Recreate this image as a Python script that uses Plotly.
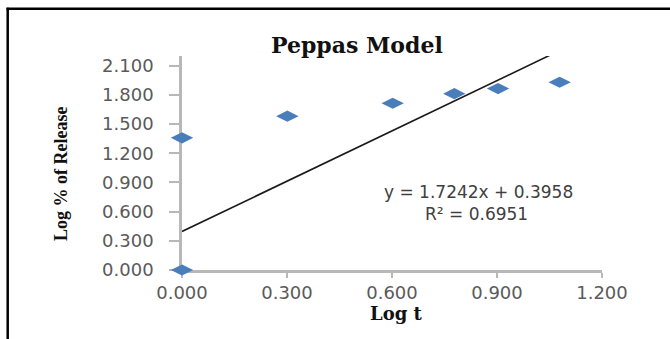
import plotly.graph_objects as go

# ---- data ----
log_t = [0.000, 0.000, 0.301, 0.602, 0.778, 0.903, 1.079]
log_release = [0.000, 1.359, 1.581, 1.714, 1.813, 1.865, 1.930]
trend_slope = 1.7242
trend_intercept = 0.3958
trend_x = [0.0, 1.2]
x_ticks = [0.0, 0.3, 0.6, 0.9, 1.2]
y_ticks = [0.0, 0.3, 0.6, 0.9, 1.2, 1.5, 1.8, 2.1]
chart_title = "Peppas Model"
x_title = "Log t"
y_title = "Log % of Release"
eq_line1 = "y = 1.7242x + 0.3958"
eq_line2 = "R² = 0.6951"

# ---- layout geometry (pixels) ----
W, H = 670, 339
ML, MR, MT, MB = 182, 68, 56, 69
PW, PH = W - ML - MR, H - MT - MB


def px(p):
    return (p - ML) / PW


def py(p):
    return (H - MB - p) / PH


trend_y = [trend_slope * v + trend_intercept for v in trend_x]

fig = go.Figure()
fig.add_trace(go.Scatter(
    x=trend_x, y=trend_y, mode="lines",
    line=dict(color="#1a1a1a", width=1.6),
    hoverinfo="skip", showlegend=False,
))
fig.add_trace(go.Scatter(
    x=log_t, y=log_release, mode="markers",
    marker=dict(symbol="diamond-wide", size=16, color="#4a7ebb",
                line=dict(width=0)),
    cliponaxis=False, showlegend=False,
))

tick_font = dict(family="DejaVu Sans", size=18, color="#5a5a5a")
axis_common = dict(
    showline=True, linecolor="#b8b8b8", linewidth=2.5,
    showgrid=False, zeroline=False, ticks="outside",
    tickcolor="#b8b8b8", tickwidth=2, tickfont=tick_font,
    tickformat=".3f", layer="below traces",
)
fig.update_xaxes(range=[0, 1.2], tickvals=x_ticks, ticklen=5,
                 ticklabelstandoff=0, **axis_common)
fig.update_yaxes(range=[0, 2.2], tickvals=y_ticks, ticklen=10,
                 ticklabelstandoff=12, **axis_common)

annotations = [
    dict(text=f"<b>{chart_title}</b>", x=px(357), y=py(45),
         font=dict(family="DejaVu Serif", size=22, color="#111111")),
    dict(text=f"<b>{x_title}</b>", x=px(396), y=py(313),
         font=dict(family="DejaVu Serif", size=18, color="#111111")),
    dict(text=f"<b>{y_title}</b>", x=px(61), y=py(174), textangle=-90,
         font=dict(family="Liberation Serif", size=18, color="#111111")),
    dict(text=eq_line1, x=px(478), y=py(192),
         font=dict(family="DejaVu Sans", size=17, color="#404040")),
    dict(text=eq_line2, x=px(476), y=py(214),
         font=dict(family="DejaVu Sans", size=17, color="#404040")),
]
for a in annotations:
    a.update(xref="paper", yref="paper", showarrow=False, borderpad=0,
             xanchor="center", yanchor="middle")

shapes = [
    dict(type="line", xref="paper", yref="paper",
         x0=px(7.7), x1=px(7.7), y0=py(H + 2), y1=py(7.7),
         line=dict(color="black", width=2.5)),
    dict(type="line", xref="paper", yref="paper",
         x0=px(6.5), x1=px(W + 2), y0=py(8.7), y1=py(8.7),
         line=dict(color="black", width=2.5)),
]

fig.update_layout(
    width=W, height=H,
    margin=dict(l=ML, r=MR, t=MT, b=MB, pad=0),
    paper_bgcolor="white", plot_bgcolor="white",
    annotations=annotations, shapes=shapes,
    showlegend=False,
)

fig.write_html("out.html")
